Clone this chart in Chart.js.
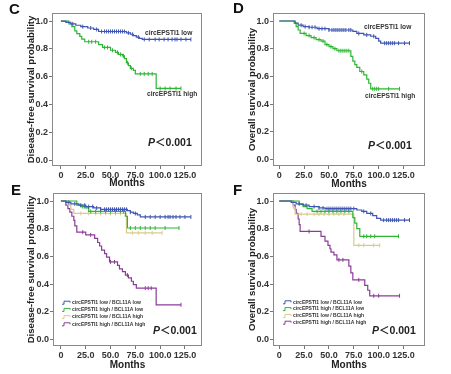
<!DOCTYPE html>
<html>
<head>
<meta charset="utf-8">
<script src="https://cdn.jsdelivr.net/npm/chart.js@4/dist/chart.umd.min.js"></script>
<style>
  html, body { margin: 0; padding: 0; background: #fff; }
  #wrap { position: relative; width: 451px; height: 374px; overflow: hidden; }
  canvas { position: absolute; }
</style>
</head>
<body>
<div id="wrap">
  <canvas id="pC" width="226" height="192" style="left:0;top:0"></canvas>
  <canvas id="pD" width="225" height="192" style="left:226px;top:0"></canvas>
  <canvas id="pE" width="226" height="196" style="left:0;top:178px"></canvas>
  <canvas id="pF" width="225" height="196" style="left:226px;top:178px"></canvas>
</div>
<script>
// ================= DATA =================

const xTicks = [0, 25, 50, 75, 100, 125];
const yTicks = [0, 0.2, 0.4, 0.6, 0.8, 1.0];

// C - disease-free survival, circEPSTI1 low / high
const cLowT = [0, 5, 10, 15, 20, 27, 33, 38, 66, 70, 73, 76, 79, 82];
const cLowS = [1.0, 0.99, 0.98, 0.97, 0.96, 0.95, 0.94, 0.925, 0.915, 0.905, 0.895, 0.885, 0.875, 0.868];
const cLowEnd = 131;
const cLowCens = [12, 22, 30, 36, 41, 44, 46, 48, 50, 52, 54, 56, 58, 60, 62, 64, 68, 72, 78, 84, 89, 95, 99, 104, 108, 112, 115, 117, 121, 126, 131];

const cHighT = [0, 8, 11, 14, 16, 19, 21, 24, 38, 42, 50, 55, 58, 62, 64, 66, 68, 70, 73, 75, 96];
const cHighS = [1.0, 0.98, 0.96, 0.93, 0.91, 0.89, 0.87, 0.851, 0.83, 0.81, 0.79, 0.775, 0.76, 0.75, 0.73, 0.70, 0.68, 0.66, 0.645, 0.62, 0.515];
const cHighEnd = 121;
const cHighCens = [28, 31, 35, 44, 47, 52, 57, 60, 63, 67, 71, 80, 84, 88, 92, 100, 105, 110, 116, 121];

// D - overall survival, circEPSTI1 low / high
const dLowT = [0, 16, 19, 24, 30, 38, 50, 74, 78, 85, 92, 97, 100, 102];
const dLowS = [1.0, 0.985, 0.97, 0.96, 0.955, 0.945, 0.935, 0.925, 0.91, 0.90, 0.89, 0.875, 0.855, 0.84];
const dLowEnd = 131;
const dLowCens = [22, 26, 30, 33, 36, 40, 43, 46, 50, 53, 55, 57, 59, 61, 63, 65, 67, 70, 72, 80, 88, 95, 106, 108, 110, 112, 114, 116, 120, 126, 131];

const dHighT = [0, 15, 17, 19, 21, 27, 32, 37, 42, 46, 50, 54, 58, 72, 74, 76, 78, 81, 85, 88, 90, 92];
const dHighS = [1.0, 0.985, 0.96, 0.935, 0.91, 0.895, 0.88, 0.865, 0.855, 0.83, 0.815, 0.80, 0.785, 0.745, 0.71, 0.685, 0.665, 0.635, 0.61, 0.58, 0.55, 0.51];
const dHighEnd = 121;
const dHighCens = [25, 30, 35, 40, 44, 48, 52, 56, 60, 62, 64, 66, 68, 70, 83, 94, 96, 98, 100, 110, 121];

// E - disease-free survival, circEPSTI1 x BCL11A
const eLLT = [0, 5, 10, 18, 25, 33, 40, 67, 70, 73, 77, 80];
const eLLS = [1.0, 0.99, 0.98, 0.97, 0.96, 0.95, 0.94, 0.93, 0.92, 0.91, 0.90, 0.885];
const eLLEnd = 131;
const eLLCens = [8, 14, 20, 24, 28, 32, 36, 40, 44, 46, 48, 50, 52, 54, 56, 58, 60, 62, 64, 66, 70, 75, 85, 90, 95, 100, 105, 108, 110, 113, 116, 120, 125, 131];

const eHLT = [0, 16, 20, 24, 28, 65, 67];
const eHLS = [1.0, 0.97, 0.96, 0.95, 0.925, 0.89, 0.805];
const eHLEnd = 119;
const eHLCens = [22, 30, 35, 40, 45, 50, 55, 60, 63, 70, 75, 80, 85, 90, 95, 105, 119];

const eLHT = [0, 7, 10, 13, 66];
const eLHS = [1.0, 0.97, 0.94, 0.91, 0.77];
const eLHEnd = 102;
const eLHCens = [20, 28, 35, 40, 45, 50, 55, 60, 72, 78, 85, 92, 102];

const eHHT = [0, 5, 7, 9, 11, 13, 14, 16, 25, 34, 37, 39, 41, 44, 46, 49, 57, 59, 62, 65, 68, 71, 73, 76, 96];
const eHHS = [1.0, 0.97, 0.945, 0.92, 0.89, 0.86, 0.82, 0.775, 0.755, 0.73, 0.70, 0.675, 0.645, 0.62, 0.595, 0.56, 0.535, 0.51, 0.49, 0.465, 0.445, 0.42, 0.395, 0.37, 0.25];
const eHHEnd = 121;
const eHHCens = [22, 30, 50, 54, 67, 85, 88, 91, 121];

// F - overall survival, circEPSTI1 x BCL11A
const fLLT = [0, 12, 17, 24, 30, 40, 46, 78, 83, 88, 94, 98, 102];
const fLLS = [1.0, 0.99, 0.98, 0.97, 0.96, 0.95, 0.945, 0.935, 0.925, 0.91, 0.895, 0.875, 0.862];
const fLLEnd = 131;
const fLLCens = [20, 27, 35, 40, 44, 48, 50, 52, 54, 56, 58, 60, 62, 64, 66, 68, 70, 72, 75, 85, 92, 105, 108, 110, 112, 114, 116, 118, 120, 126, 131];

const fHLT = [0, 20, 24, 28, 33, 74, 76, 78, 81];
const fHLS = [1.0, 0.975, 0.96, 0.945, 0.925, 0.88, 0.84, 0.80, 0.745];
const fHLEnd = 120;
const fHLCens = [38, 42, 46, 50, 54, 58, 62, 66, 70, 85, 88, 92, 96, 120];

const fLHT = [0, 14, 16, 75];
const fLHS = [1.0, 0.95, 0.905, 0.68];
const fLHEnd = 101;
const fLHCens = [22, 28, 35, 40, 45, 50, 55, 60, 65, 80, 85, 95, 101];

const fHHT = [0, 14, 16, 17, 19, 20, 21, 42, 46, 49, 51, 52, 55, 58, 70, 72, 74, 86, 89, 91];
const fHHS = [1.0, 0.97, 0.94, 0.91, 0.87, 0.83, 0.78, 0.745, 0.71, 0.68, 0.655, 0.63, 0.61, 0.575, 0.53, 0.48, 0.43, 0.39, 0.355, 0.315];
const fHHEnd = 121;
const fHHCens = [30, 60, 64, 80, 95, 100, 121];

const groupLabels = [
  "circEPSTI1 low / BCL11A low",
  "circEPSTI1 high / BCL11A low",
  "circEPSTI1 low / BCL11A high",
  "circEPSTI1 high / BCL11A high"
];

// ================= STYLE =================

const FONT = '"Liberation Sans", Arial, sans-serif';
const BLUE = "#3f55b3";
const GREEN = "#2fb534";
const TAN = "#d8cc8c";
const PURPLE = "#8b3c98";

// ================= HELPERS =================

function survAt(T, S, t) {
  let s = S[0];
  for (let i = 0; i < T.length; i++) if (T[i] <= t) s = S[i];
  return s;
}

function kmSets(T, S, end, cens, color) {
  const pts = T.map((t, i) => ({ x: t, y: S[i] }));
  pts.push({ x: end, y: S[S.length - 1] });
  return [
    // 'before': horizontal at the old level, then drop at the event time
    { data: pts, borderColor: color, borderWidth: 1.2, stepped: "before", pointRadius: 0, fill: false },
    { data: cens.map(t => ({ x: t, y: survAt(T, S, t) })), showLine: false, pointStyle: "line",
      rotation: 90, pointRadius: 2, borderColor: color, borderWidth: 1, backgroundColor: color }
  ];
}

// frame, panel letter, curve labels, P value, legend
const decor = {
  id: "decor",
  afterDraw(chart) {
    const o = chart.options.plugins.decor;
    const ctx = chart.ctx, a = chart.chartArea;
    ctx.save();
    ctx.strokeStyle = "#8a8a8a";
    ctx.lineWidth = 1;
    ctx.strokeRect(a.left + 0.5, a.top + 0.5, a.width - 1, a.height - 1);

    ctx.fillStyle = "#111";
    ctx.textBaseline = "middle";
    ctx.font = "bold 15px " + FONT;
    ctx.fillText(o.letter, o.letterX, o.letterY);

    ctx.fillStyle = "#333";
    ctx.font = "bold 6.6px " + FONT;
    (o.labels || []).forEach(l => ctx.fillText(l.text, l.x, l.y));

    ctx.fillStyle = "#222";
    ctx.font = "italic bold 10.5px " + FONT;
    ctx.fillText("P", o.pX, o.pY);
    const pw = ctx.measureText("P").width;
    ctx.font = 'bold 10.5px ' + FONT + ', "Noto Sans CJK SC"';
    ctx.fillText("\uFF1C0.001", o.pX + pw, o.pY);

    if (o.legend) {
      const lg = o.legend;
      ctx.font = "bold 5px " + FONT;
      lg.colors.forEach((c, i) => {
        const y = lg.y + i * lg.gap;
        ctx.strokeStyle = c;
        ctx.lineWidth = 1;
        ctx.beginPath();
        ctx.moveTo(lg.x, y + 1.5);
        ctx.lineTo(lg.x + 2, y + 1.5);
        ctx.lineTo(lg.x + 2, y - 1.5);
        ctx.lineTo(lg.x + 8, y - 1.5);
        ctx.lineTo(lg.x + 8, y);
        ctx.stroke();
        ctx.fillStyle = "#333";
        ctx.fillText(groupLabels[i], lg.x + 10, y);
      });
    }
    ctx.restore();
  }
};

function makePanel(id, g, datasets, yTitle, deco) {
  const canvas = document.getElementById(id);
  return new Chart(canvas.getContext("2d"), {
    type: "line",
    data: { datasets: datasets },
    plugins: [decor],
    options: {
      responsive: false,
      animation: false,
      layout: { padding: { left: g.pl, top: g.top, right: g.pr, bottom: g.pb } },
      plugins: { legend: { display: false }, tooltip: { enabled: false }, decor: deco },
      scales: {
        x: {
          type: "linear", min: g.xmin, max: g.xmax,
          afterBuildTicks: s => { s.ticks = xTicks.map(v => ({ value: v })); },
          afterFit: s => { s.height = g.xh; },
          border: { display: false },
          grid: { drawOnChartArea: false, drawTicks: true, tickLength: 3, color: "#777" },
          ticks: { autoSkip: false, maxRotation: 0, padding: 1, color: "#333",
                   font: { family: FONT, size: 9, weight: "bold" },
                   callback: v => v === 0 ? "0" : v.toFixed(1) },
          title: { display: true, text: "Months", padding: 0, color: "#222",
                   font: { family: FONT, size: 10, weight: "bold" } }
        },
        y: {
          min: g.ymin, max: g.ymax,
          afterBuildTicks: s => { s.ticks = yTicks.map(v => ({ value: v })); },
          afterFit: s => { s.width = g.yw; },
          border: { display: false },
          grid: { drawOnChartArea: false, drawTicks: true, tickLength: 3, color: "#777" },
          ticks: { padding: 1, color: "#333", font: { family: FONT, size: 9, weight: "bold" },
                   callback: v => v.toFixed(1) },
          title: { display: true, text: yTitle, padding: 0, color: "#222",
                   font: { family: FONT, size: 9.6, weight: "bold" } }
        }
      }
    }
  });
}

// ================= PANELS =================

makePanel("pC",
  { pl: 26, top: 13, pr: 24, pb: 3, yw: 26, xh: 23, xmin: -9, xmax: 142.2, ymin: -0.043, ymax: 1.058 },
  [...kmSets(cLowT, cLowS, cLowEnd, cLowCens, BLUE), ...kmSets(cHighT, cHighS, cHighEnd, cHighCens, GREEN)],
  "Disease-free survival probability",
  { letter: "C", letterX: 9, letterY: 10,
    labels: [{ text: "circEPSTI1 low", x: 145, y: 33 }, { text: "circEPSTI1 high", x: 147, y: 94 }],
    pX: 148, pY: 143 });

makePanel("pD",
  { pl: 21, top: 13, pr: 26, pb: 2, yw: 26, xh: 24, xmin: -6.3, xmax: 146.6, ymin: -0.048, ymax: 1.058 },
  [...kmSets(dLowT, dLowS, dLowEnd, dLowCens, BLUE), ...kmSets(dHighT, dHighS, dHighEnd, dHighCens, GREEN)],
  "Overall survival probability",
  { letter: "D", letterX: 7, letterY: 9,
    labels: [{ text: "circEPSTI1 low", x: 138, y: 27 }, { text: "circEPSTI1 high", x: 139, y: 96 }],
    pX: 142, pY: 146 });

makePanel("pE",
  { pl: 26, top: 15, pr: 24, pb: 3, yw: 27, xh: 25, xmin: -8, xmax: 142.2, ymin: -0.048, ymax: 1.058 },
  [...kmSets(eLLT, eLLS, eLLEnd, eLLCens, BLUE), ...kmSets(eHLT, eHLS, eHLEnd, eHLCens, GREEN),
   ...kmSets(eLHT, eLHS, eLHEnd, eLHCens, TAN), ...kmSets(eHHT, eHHS, eHHEnd, eHHCens, PURPLE)],
  "Disease-free survival probability",
  { letter: "E", letterX: 11, letterY: 13, pX: 153, pY: 153,
    legend: { x: 62, y: 124.7, gap: 7.2, colors: [BLUE, GREEN, TAN, PURPLE] } });

makePanel("pF",
  { pl: 21, top: 15, pr: 26, pb: 3, yw: 26, xh: 25, xmin: -6.3, xmax: 146.6, ymin: -0.048, ymax: 1.058 },
  [...kmSets(fLLT, fLLS, fLLEnd, fLLCens, BLUE), ...kmSets(fHLT, fHLS, fHLEnd, fHLCens, GREEN),
   ...kmSets(fLHT, fLHS, fLHEnd, fLHCens, TAN), ...kmSets(fHHT, fHHS, fHHEnd, fHHCens, PURPLE)],
  "Overall survival probability",
  { letter: "F", letterX: 7, letterY: 13, pX: 146, pY: 153,
    legend: { x: 57, y: 124.3, gap: 6.8, colors: [BLUE, GREEN, TAN, PURPLE] } });
</script>
</body>
</html>
